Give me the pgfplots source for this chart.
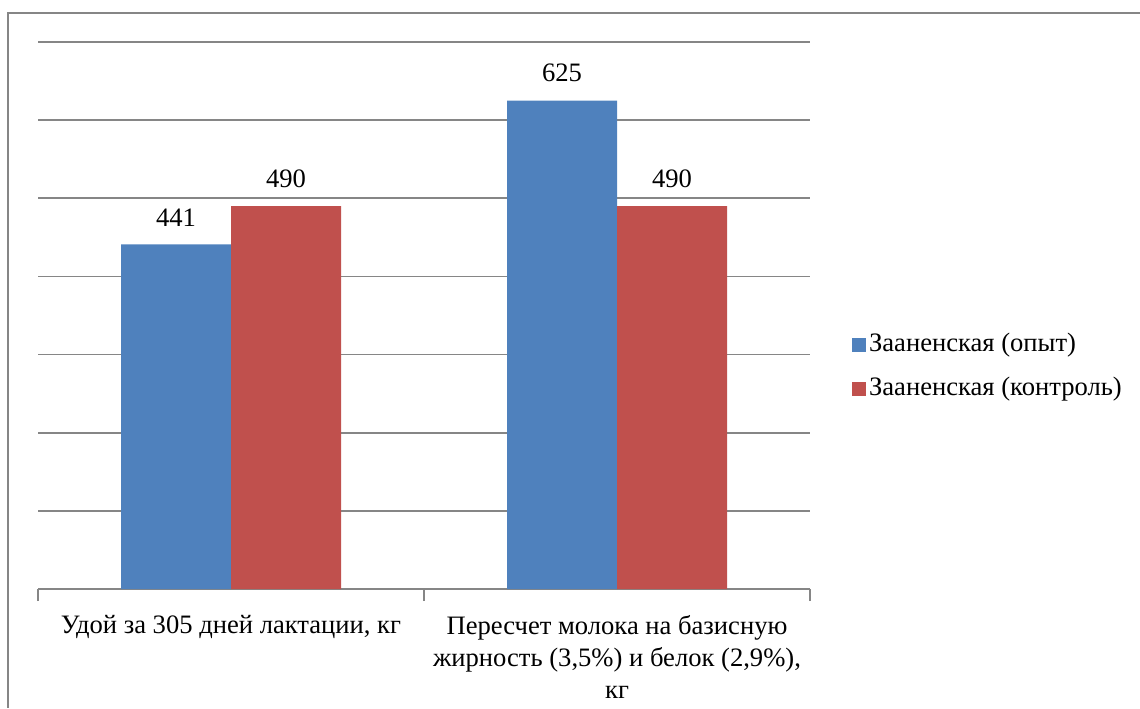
\documentclass[border=0pt]{standalone}
\usepackage{pgfplots}
\pgfplotsset{compat=1.18}
\usepackage{fontspec}
\setmainfont{Liberation Serif}
\definecolor{barblue}{RGB}{79,129,189}
\definecolor{barred}{RGB}{192,80,77}
\definecolor{gridgray}{RGB}{134,134,134}
\begin{document}
\begin{tikzpicture}
\useasboundingbox (0,0) rectangle (570pt,354pt);
\draw[gridgray, line width=1.2pt] (570pt,347.5pt) -- (4pt,347.5pt) -- (4pt,0pt);
\begin{axis}[
  at={(19pt,59.5pt)}, anchor=south west,
  width=386pt, height=273.5pt, scale only axis,
  ybar=0pt, bar width=55pt,
  xmin=-0.5, xmax=1.5, ymin=0, ymax=700,
  /pgf/number format/assume math mode=true,
  xtick={-0.5,0.5,1.5},
  xticklabels={},
  xtick align=outside,
  major tick length=6pt,
  xtick style={gridgray, line width=0.8pt},
  extra x ticks={0,1},
  extra x tick labels={{Удой за 305 дней лактации, кг},{Пересчет молока на базисную\\жирность (3,5\%) и белок (2,9\%),\\кг}},
  extra x tick style={major tick length=0pt, grid=none, xticklabel style={align=center, font={\fontsize{13.3}{16}\selectfont}, yshift=-9.5pt}},
  ytick={0,100,...,700},
  yticklabels={},
  ytick style={draw=none},
  ymajorgrids, grid style={gridgray, line width=0.8pt},
  axis x line*=bottom, axis y line*=left,
  x axis line style={gridgray, line width=0.8pt},
  y axis line style={draw=none},
  nodes near coords,
  every node near coord/.append style={font={\fontsize{13.3}{16}\selectfont}, inner sep=0pt, anchor=south, yshift=9pt, black},
  legend style={at={(1.054,0.405)}, anchor=west, draw=none, fill=none, font={\fontsize{13.3}{16}\selectfont}, inner sep=0pt, row sep=10pt, nodes={inner xsep=1.5pt, inner ysep=0pt, text height=9pt, text depth=3pt}},
  legend cell align=left,
  legend image code/.code={\fill[#1] (0pt,-3.5pt) rectangle (7pt,3.5pt);},
]
\addplot[fill=barblue, draw=none] coordinates {(0,441) (1,625)};
\addplot[fill=barred, draw=none] coordinates {(0,490) (1,490)};
\legend{Зааненская (опыт), Зааненская (контроль)}
\end{axis}
\end{tikzpicture}
\end{document}
